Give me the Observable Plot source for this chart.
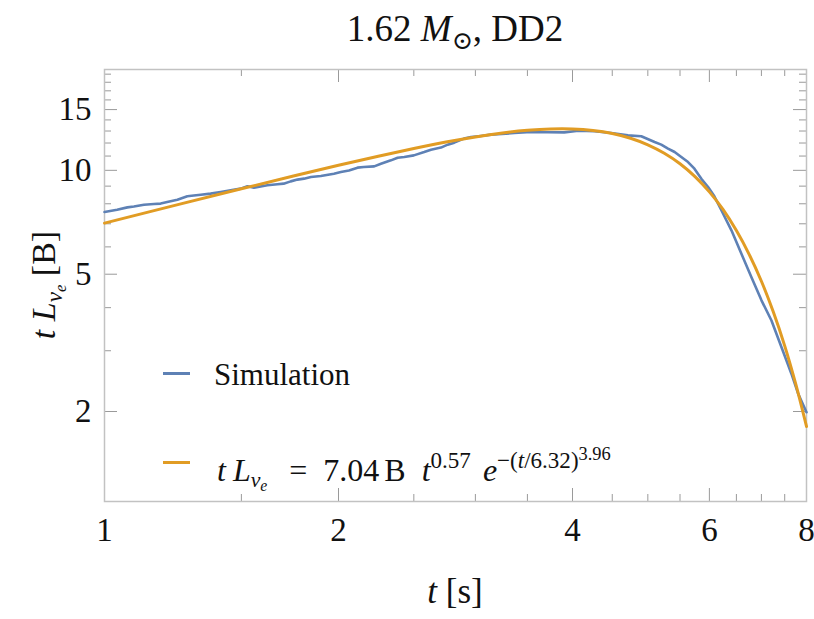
<!DOCTYPE html>
<html>
<head>
<meta charset="utf-8">
<script src="https://cdn.jsdelivr.net/npm/d3@7"></script>
<script src="https://cdn.jsdelivr.net/npm/@observablehq/plot@0.6"></script>
<style>
  html, body { margin: 0; padding: 0; background: #fff; }
  #wrap { position: relative; width: 814px; height: 619px; font-family: "Liberation Serif", "DejaVu Serif", serif; color: #111; }
  .abs { position: absolute; white-space: nowrap; line-height: 1; }
  .sub { font-size: 0.68em; vertical-align: -0.3em; }
  .sup { font-size: 0.72em; vertical-align: 0.55em; }
  .sub2 { font-size: 0.72em; vertical-align: -0.25em; }
  .sup2 { font-size: 0.8em; vertical-align: 0.45em; }
</style>
</head>
<body>
<div id="wrap">
  <div id="chart" class="abs" style="left:0;top:60px;"></div>
  <div class="abs" style="left:104px;width:702px;top:10px;text-align:center;font-size:37px;">1.62 <i>M</i><span class="sub">⊙</span>, DD2</div>
  <div class="abs" style="left:455px;top:574px;transform:translateX(-50%);font-size:35px;"><i>t</i> [s]</div>
  <div class="abs" style="left:48px;top:285px;transform:translate(-50%,-50%) rotate(-90deg);font-size:34px;"><i>t</i> <i>L</i><span class="sub"><i>ν</i><span class="sub2"><i>e</i></span></span> [B]</div>
  <div class="abs" style="left:163px;top:372px;width:27px;height:2.5px;background:#5E81B5;"></div>
  <div class="abs" style="left:214px;top:359px;font-size:31px;">Simulation</div>
  <div class="abs" style="left:163px;top:461px;width:27px;height:3px;background:#E19C24;"></div>
  <div class="abs" style="left:217px;top:445px;font-size:32px;"><i>t</i><span style="margin-left:7px"><i>L</i></span><span class="sub"><i>ν</i><span class="sub2"><i>e</i></span></span><span style="margin-left:22px">=</span><span style="margin-left:16px">7.04</span><span style="margin-left:5px">B</span><span style="margin-left:16px"><i>t</i></span><span class="sup">0.57</span><span style="margin-left:12px"><i>e</i></span><span class="sup">−(<i>t</i>/6.32)<span class="sup2">3.96</span></span></div>
</div>
<script>
// Simulation curve
const simTime = [1.0, 1.038, 1.07, 1.091, 1.124, 1.158, 1.181, 1.204, 1.241, 1.278, 1.303, 1.33, 1.369, 1.411, 1.453, 1.497, 1.527, 1.557, 1.62, 1.669, 1.70, 1.736, 1.771, 1.806, 1.843, 1.898, 1.973, 2.014, 2.063, 2.116, 2.156, 2.223, 2.268, 2.336, 2.383, 2.43, 2.50, 2.578, 2.63, 2.709, 2.764, 2.818, 2.90, 2.962, 3.05, 3.143, 3.206, 3.366, 3.539, 3.718, 3.903, 4.07, 4.27, 4.486, 4.714, 4.904, 5.101, 5.203, 5.308, 5.413, 5.521, 5.632, 5.74, 5.859, 5.977, 6.08, 6.217, 6.405, 6.597, 6.796, 7.001, 7.211, 7.429, 7.652, 7.806, 8.0];
const simLum = [7.57, 7.69, 7.81, 7.86, 7.95, 7.99, 8.01, 8.09, 8.22, 8.41, 8.45, 8.50, 8.56, 8.65, 8.75, 8.85, 8.99, 8.91, 9.05, 9.11, 9.15, 9.29, 9.40, 9.46, 9.56, 9.63, 9.78, 9.89, 9.99, 10.18, 10.22, 10.27, 10.45, 10.69, 10.88, 10.93, 11.05, 11.30, 11.48, 11.64, 11.87, 12.03, 12.36, 12.49, 12.58, 12.69, 12.72, 12.83, 12.91, 12.89, 12.88, 13.03, 12.98, 12.83, 12.63, 12.55, 12.08, 11.87, 11.56, 11.30, 10.93, 10.57, 10.11, 9.45, 8.95, 8.46, 7.66, 6.70, 5.73, 4.90, 4.20, 3.67, 3.07, 2.57, 2.25, 1.99];
// Fit curve
const fitTime = [1.0, 1.25, 1.5, 1.75, 2.0, 2.25, 2.5, 2.75, 3.0, 3.25, 3.5, 3.75, 4.0, 4.25, 4.5, 4.75, 5.0, 5.25, 5.5, 5.75, 6.0, 6.25, 6.5, 6.75, 7.0, 7.25, 7.5, 7.75, 8.0];
const fitLum = [7.03, 7.98, 8.84, 9.63, 10.34, 10.99, 11.57, 12.08, 12.5, 12.83, 13.06, 13.18, 13.18, 13.05, 12.79, 12.39, 11.86, 11.21, 10.45, 9.59, 8.66, 7.69, 6.69, 5.71, 4.77, 3.89, 3.1, 2.4, 1.81];
// Tick values
const xMajorTicks = [1, 2, 4, 6, 8];
const xMinorTicks = [1.5, 2.5, 3, 3.5, 4.5, 5, 5.5, 6.5, 7, 7.5];
const yMajorTicks = [2, 5, 10, 15];
const yMinorTicks = [3, 4, 6, 7, 8, 9, 11, 12, 13, 14, 16, 17, 18, 19];
const xDomain = [1, 8];
const yDomain = [1.097, 19.6];

const sim = simTime.map((t, i) => ({t, v: simLum[i]}));
const fit = fitTime.map((t, i) => ({t, v: fitLum[i]}));

const W = 814, H = 559, mT = 9, mB = 118, mL = 104, mR = 8;
const fw = W - mL - mR, fh = H - mT - mB;
const major = 13, minor = 7;
const tickColor = "#9a9a9a";

const chart = Plot.plot({
  width: W, height: H,
  marginTop: mT, marginBottom: mB, marginLeft: mL, marginRight: mR,
  style: {fontFamily: "'Liberation Serif', 'DejaVu Serif', serif", fontSize: "33px", color: "#111", background: "transparent", overflow: "visible"},
  x: {type: "log", domain: xDomain},
  y: {type: "log", domain: yDomain},
  marks: [
    // inward frame ticks
    Plot.ruleX(xMajorTicks, {insetTop: fh - major, stroke: tickColor}),
    Plot.ruleX(xMinorTicks, {insetTop: fh - minor, stroke: tickColor}),
    Plot.ruleX(xMajorTicks, {insetBottom: fh - major, stroke: tickColor}),
    Plot.ruleX(xMinorTicks, {insetBottom: fh - minor, stroke: tickColor}),
    Plot.ruleY(yMajorTicks, {insetRight: fw - major, stroke: tickColor}),
    Plot.ruleY(yMinorTicks, {insetRight: fw - minor, stroke: tickColor}),
    Plot.ruleY(yMajorTicks, {insetLeft: fw - major, stroke: tickColor}),
    Plot.ruleY(yMinorTicks, {insetLeft: fw - minor, stroke: tickColor}),
    Plot.frame({stroke: "#c2c2c2", strokeWidth: 1.5}),
    Plot.axisX({ticks: xMajorTicks, tickSize: 0, tickPadding: 16, label: null, tickFormat: d => String(d), fill: "#111"}),
    Plot.axisY({ticks: yMajorTicks, tickSize: 0, tickPadding: 13, label: null, tickFormat: d => String(d), fill: "#111"}),
    Plot.line(sim, {x: "t", y: "v", stroke: "#5E81B5", strokeWidth: 2.6}),
    Plot.line(fit, {x: "t", y: "v", stroke: "#E19C24", strokeWidth: 3, curve: "catmull-rom"})
  ]
});
document.getElementById("chart").appendChild(chart);
</script>
</body>
</html>
